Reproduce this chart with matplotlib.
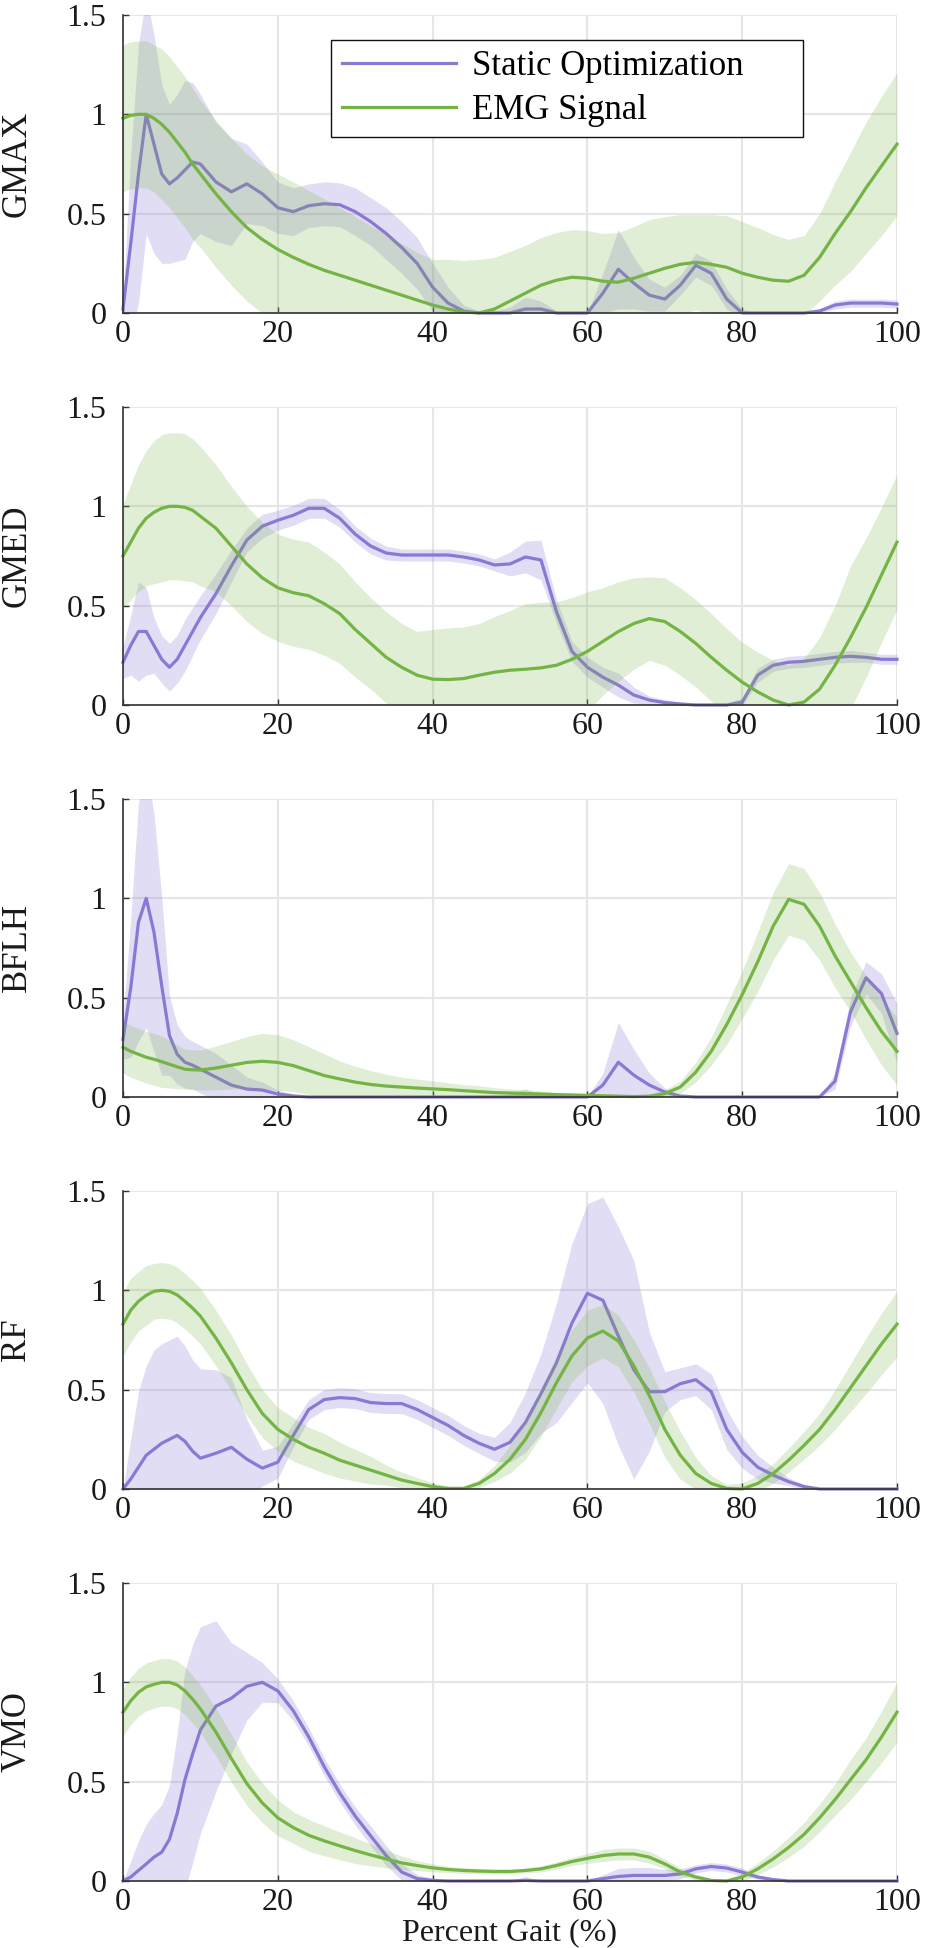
import matplotlib as mpl
import matplotlib.pyplot as plt
import numpy as np

mpl.use("Agg")
plt.rcParams["font.family"] = ["Liberation Serif", "DejaVu Serif"]

# %%
# gait cycle samples (1% steps early on, 2% steps afterwards)
x = list(range(0, 11)) + list(range(12, 101, 2))

muscles = ["GMAX", "GMED", "BFLH", "RF", "VMO"]

# --- GMAX ---
gmax_so_mean = [0.02, 0.35, 0.7, 1.0, 0.85, 0.7, 0.65, 0.68, 0.72, 0.76, 0.75,
                0.66, 0.61, 0.65, 0.6, 0.53,
                0.51, 0.54, 0.55, 0.545, 0.51,
                0.46, 0.4, 0.33, 0.25, 0.13,
                0.05, 0.01, 0.0, 0.0, 0.0,
                0.02, 0.02, 0.0, 0.0, 0.0,
                0.1, 0.22, 0.15, 0.09, 0.07,
                0.14, 0.24, 0.2, 0.07, 0.0,
                0.0, 0.0, 0.0, 0.0, 0.01,
                0.04, 0.05, 0.05, 0.05, 0.045]
gmax_so_sd = [0.03, 0.45, 0.65, 0.6, 0.55, 0.45, 0.4, 0.42, 0.45, 0.4, 0.35,
              0.3, 0.27, 0.2, 0.16, 0.13,
              0.12, 0.11, 0.11, 0.11, 0.12,
              0.12, 0.13, 0.13, 0.13, 0.12,
              0.08, 0.03, 0.01, 0.01, 0.03,
              0.06, 0.04, 0.01, 0.0, 0.0,
              0.1, 0.2, 0.13, 0.08, 0.06,
              0.05, 0.06, 0.06, 0.05, 0.02,
              0.0, 0.0, 0.0, 0.0, 0.01,
              0.02, 0.02, 0.02, 0.02, 0.02]
gmax_emg_mean = [0.98, 0.995, 1.0, 1.0, 0.98, 0.95, 0.91, 0.86, 0.81, 0.75, 0.7,
                 0.6, 0.51, 0.43, 0.37, 0.32,
                 0.28, 0.245, 0.215, 0.19, 0.165,
                 0.14, 0.115, 0.09, 0.065, 0.04,
                 0.02, 0.005, 0.0, 0.02, 0.06,
                 0.1, 0.14, 0.165, 0.18, 0.175,
                 0.16, 0.155, 0.175, 0.2, 0.225,
                 0.245, 0.255, 0.245, 0.23, 0.2,
                 0.18, 0.165, 0.16, 0.19, 0.28,
                 0.4, 0.51, 0.63, 0.74, 0.85]
gmax_emg_sd = [0.37, 0.37, 0.37, 0.37, 0.37, 0.38, 0.38, 0.38, 0.38, 0.38, 0.37,
               0.37, 0.37, 0.37, 0.37, 0.38,
               0.38, 0.37, 0.36, 0.34, 0.32,
               0.3, 0.28, 0.26, 0.24, 0.23,
               0.25, 0.26, 0.27, 0.26, 0.25,
               0.24, 0.24, 0.24, 0.24, 0.24,
               0.24, 0.25, 0.26, 0.27, 0.26,
               0.25, 0.24, 0.25, 0.26, 0.26,
               0.25, 0.23, 0.21, 0.2, 0.22,
               0.26, 0.3, 0.33, 0.35, 0.36]

# --- GMED ---
gmed_so_mean = [0.215, 0.3, 0.37, 0.37, 0.3, 0.23, 0.19, 0.23, 0.3, 0.37, 0.44,
                0.56, 0.7, 0.83, 0.9, 0.93,
                0.955, 0.99, 0.99, 0.94, 0.86,
                0.8, 0.765, 0.755, 0.755, 0.755,
                0.755, 0.745, 0.73, 0.705, 0.71,
                0.745, 0.73, 0.47, 0.27, 0.19,
                0.14, 0.1, 0.05, 0.025, 0.012,
                0.005, 0.0, 0.0, 0.0, 0.015,
                0.15, 0.2, 0.215, 0.22, 0.23,
                0.24, 0.245, 0.24, 0.23, 0.23]
gmed_so_sd = [0.08, 0.15, 0.25, 0.22, 0.14, 0.12, 0.12, 0.12, 0.13, 0.12, 0.11,
              0.1, 0.08, 0.06, 0.06, 0.05,
              0.05, 0.05, 0.05, 0.045, 0.04,
              0.04, 0.035, 0.03, 0.03, 0.03,
              0.03, 0.03, 0.03, 0.03, 0.06,
              0.08, 0.1, 0.06, 0.05, 0.05,
              0.05, 0.06, 0.04, 0.02, 0.015,
              0.01, 0.01, 0.01, 0.01, 0.02,
              0.035, 0.03, 0.03, 0.03, 0.03,
              0.03, 0.03, 0.025, 0.025, 0.025]
gmed_emg_mean = [0.75, 0.82, 0.89, 0.94, 0.97, 0.99, 1.0, 1.0, 0.995, 0.98, 0.95,
                 0.89, 0.8, 0.71, 0.64, 0.59,
                 0.565, 0.55, 0.51, 0.46, 0.38,
                 0.31, 0.24, 0.19, 0.15, 0.13,
                 0.128, 0.133, 0.15, 0.165, 0.175,
                 0.18, 0.187, 0.2, 0.23, 0.27,
                 0.32, 0.37, 0.41, 0.435, 0.42,
                 0.37, 0.31, 0.24, 0.175, 0.115,
                 0.066, 0.025, 0.0, 0.015, 0.08,
                 0.2, 0.34, 0.49, 0.655, 0.82]
gmed_emg_sd = [0.26, 0.29, 0.32, 0.34, 0.36, 0.37, 0.37, 0.37, 0.37, 0.36, 0.35,
               0.32, 0.3, 0.29, 0.28, 0.27,
               0.27, 0.27, 0.26, 0.25, 0.24,
               0.23, 0.23, 0.22, 0.22, 0.25,
               0.26, 0.26, 0.26, 0.28, 0.3,
               0.33, 0.33, 0.32, 0.31, 0.3,
               0.27, 0.25, 0.23, 0.21, 0.22,
               0.22, 0.22, 0.22, 0.21, 0.2,
               0.2, 0.2, 0.2, 0.22, 0.26,
               0.3, 0.36, 0.35, 0.34, 0.34]

# --- BFLH ---
bflh_so_mean = [0.29, 0.55, 0.88, 1.0, 0.83, 0.56, 0.31, 0.215, 0.175, 0.16, 0.14,
                0.1, 0.06, 0.04, 0.035, 0.015,
                0.005, 0.0, 0.0, 0.0, 0.0,
                0.0, 0.0, 0.0, 0.0, 0.0,
                0.0, 0.0, 0.0, 0.0, 0.0,
                0.0, 0.0, 0.0, 0.0, 0.0,
                0.06, 0.175, 0.11, 0.06, 0.025,
                0.005, 0.0, 0.0, 0.0, 0.0,
                0.0, 0.0, 0.0, 0.0, 0.0,
                0.08, 0.43, 0.6, 0.52, 0.32]
bflh_so_sd = [0.1, 0.35, 0.6, 0.65, 0.6, 0.45, 0.2, 0.15, 0.13, 0.12, 0.12,
              0.12, 0.1, 0.06, 0.04, 0.02,
              0.01, 0.0, 0.0, 0.0, 0.0,
              0.0, 0.0, 0.0, 0.0, 0.0,
              0.0, 0.0, 0.0, 0.0, 0.02,
              0.04, 0.01, 0.0, 0.0, 0.0,
              0.06, 0.2, 0.13, 0.06, 0.02,
              0.005, 0.0, 0.0, 0.0, 0.0,
              0.0, 0.0, 0.0, 0.0, 0.0,
              0.04, 0.07, 0.08, 0.1, 0.15]
bflh_emg_mean = [0.25, 0.23, 0.215, 0.2, 0.19, 0.178, 0.165, 0.152, 0.14, 0.137, 0.136,
                 0.146, 0.16, 0.174, 0.18, 0.174,
                 0.158, 0.133, 0.108, 0.091, 0.075,
                 0.063, 0.055, 0.05, 0.045, 0.041,
                 0.037, 0.032, 0.027, 0.022, 0.02,
                 0.017, 0.015, 0.012, 0.01, 0.008,
                 0.006, 0.004, 0.002, 0.004, 0.017,
                 0.05, 0.125, 0.23, 0.365, 0.515,
                 0.68, 0.86, 0.995, 0.97, 0.86,
                 0.71, 0.58, 0.45, 0.33, 0.23]
bflh_emg_sd = [0.13, 0.13, 0.13, 0.13, 0.13, 0.13, 0.12, 0.11, 0.1, 0.1, 0.1,
               0.11, 0.12, 0.13, 0.14, 0.14,
               0.13, 0.12, 0.11, 0.09, 0.08,
               0.07, 0.06, 0.05, 0.045, 0.04,
               0.035, 0.03, 0.03, 0.025, 0.02,
               0.02, 0.015, 0.01, 0.01, 0.01,
               0.01, 0.01, 0.01, 0.01, 0.02,
               0.03, 0.05, 0.07, 0.1, 0.12,
               0.15, 0.17, 0.18, 0.18, 0.17,
               0.16, 0.15, 0.16, 0.17, 0.17]

# --- RF ---
rf_so_mean = [0.0, 0.05, 0.11, 0.17, 0.2, 0.23, 0.25, 0.27, 0.24, 0.19, 0.155,
              0.18, 0.21, 0.15, 0.105, 0.135,
              0.27, 0.4, 0.45, 0.46, 0.455,
              0.435, 0.43, 0.43, 0.4, 0.36,
              0.32, 0.27, 0.23, 0.2, 0.235,
              0.335, 0.48, 0.635, 0.835, 0.985,
              0.95, 0.77, 0.6, 0.49, 0.49,
              0.53, 0.55, 0.49, 0.3, 0.185,
              0.11, 0.07, 0.037, 0.012, 0.0,
              0.0, 0.0, 0.0, 0.0, 0.0]
rf_so_sd = [0.0, 0.2, 0.38, 0.45, 0.5, 0.5, 0.5, 0.5, 0.48, 0.46, 0.45,
            0.42, 0.35, 0.2, 0.09, 0.08,
            0.06, 0.05, 0.05, 0.05, 0.05,
            0.05, 0.05, 0.05, 0.05, 0.05,
            0.05, 0.05, 0.05, 0.06, 0.1,
            0.15, 0.2, 0.3, 0.4, 0.45,
            0.52, 0.55, 0.55, 0.3, 0.1,
            0.08, 0.08, 0.09, 0.1, 0.08,
            0.06, 0.04, 0.02, 0.01, 0.0,
            0.0, 0.0, 0.0, 0.0, 0.0]
rf_emg_mean = [0.83, 0.9, 0.945, 0.975, 0.995, 1.0, 0.995, 0.977, 0.945, 0.91, 0.87,
               0.76, 0.635, 0.5, 0.38, 0.3,
               0.25, 0.21, 0.18, 0.145, 0.12,
               0.095, 0.07, 0.045, 0.028, 0.012,
               0.003, 0.003, 0.028, 0.078, 0.15,
               0.25, 0.385, 0.535, 0.67, 0.76,
               0.795, 0.745, 0.62, 0.47, 0.3,
               0.17, 0.078, 0.028, 0.003, 0.0,
               0.028, 0.078, 0.145, 0.22, 0.3,
               0.4, 0.51, 0.62, 0.73, 0.83]
rf_emg_sd = [0.16, 0.16, 0.15, 0.15, 0.14, 0.14, 0.14, 0.14, 0.14, 0.14, 0.14,
             0.14, 0.14, 0.13, 0.12, 0.11,
             0.11, 0.1, 0.1, 0.09, 0.08,
             0.07, 0.05, 0.04, 0.03, 0.02,
             0.01, 0.01, 0.02, 0.04, 0.07,
             0.1, 0.12, 0.13, 0.13, 0.14,
             0.135, 0.13, 0.13, 0.14, 0.14,
             0.12, 0.08, 0.04, 0.02, 0.03,
             0.04, 0.05, 0.06, 0.07, 0.08,
             0.1, 0.12, 0.14, 0.155, 0.165]

# --- VMO ---
vmo_so_mean = [0.0, 0.02, 0.053, 0.086, 0.12, 0.145, 0.21, 0.34, 0.51, 0.64, 0.76,
               0.88, 0.92, 0.98, 1.0, 0.957,
               0.857, 0.725, 0.575, 0.443, 0.327,
               0.227, 0.128, 0.045, 0.012, 0.003,
               0.0, 0.0, 0.0, 0.0, 0.0,
               0.003, 0.0, 0.0, 0.0, 0.0,
               0.012, 0.023, 0.028, 0.028, 0.028,
               0.036, 0.061, 0.073, 0.065, 0.045,
               0.02, 0.007, 0.0, 0.0, 0.0,
               0.0, 0.0, 0.0, 0.0, 0.0]
vmo_so_sd = [0.0, 0.08, 0.15, 0.2, 0.22, 0.24, 0.27, 0.4, 0.55, 0.55, 0.52,
             0.43, 0.28, 0.17, 0.1, 0.06,
             0.05, 0.045, 0.045, 0.045, 0.045,
             0.05, 0.05, 0.04, 0.02, 0.01,
             0.0, 0.0, 0.0, 0.0, 0.0,
             0.02, 0.0, 0.0, 0.0, 0.0,
             0.02, 0.04, 0.04, 0.04, 0.03,
             0.025, 0.02, 0.02, 0.02, 0.02,
             0.01, 0.005, 0.0, 0.0, 0.0,
             0.0, 0.0, 0.0, 0.0, 0.0]
vmo_emg_mean = [0.85, 0.907, 0.95, 0.977, 0.99, 1.0, 1.0, 0.987, 0.957, 0.915, 0.866,
                0.75, 0.617, 0.49, 0.393, 0.318,
                0.269, 0.23, 0.202, 0.177, 0.153,
                0.131, 0.111, 0.091, 0.078, 0.066,
                0.058, 0.053, 0.05, 0.048, 0.048,
                0.053, 0.061, 0.078, 0.098, 0.114,
                0.128, 0.136, 0.136, 0.12, 0.086,
                0.045, 0.02, 0.003, 0.0, 0.02,
                0.061, 0.111, 0.169, 0.235, 0.318,
                0.41, 0.51, 0.61, 0.725, 0.85]
vmo_emg_sd = [0.12, 0.12, 0.12, 0.12, 0.12, 0.12, 0.12, 0.12, 0.12, 0.12, 0.12,
              0.12, 0.12, 0.11, 0.1, 0.09,
              0.08, 0.08, 0.075, 0.07, 0.065,
              0.055, 0.045, 0.035, 0.025, 0.02,
              0.015, 0.015, 0.012, 0.012, 0.012,
              0.012, 0.015, 0.018, 0.02, 0.025,
              0.03, 0.03, 0.03, 0.03, 0.025,
              0.02, 0.015, 0.01, 0.01, 0.02,
              0.03, 0.04, 0.05, 0.06, 0.07,
              0.08, 0.1, 0.11, 0.13, 0.15]

so_means = [gmax_so_mean, gmed_so_mean, bflh_so_mean, rf_so_mean, vmo_so_mean]
so_sds = [gmax_so_sd, gmed_so_sd, bflh_so_sd, rf_so_sd, vmo_so_sd]
emg_means = [gmax_emg_mean, gmed_emg_mean, bflh_emg_mean, rf_emg_mean, vmo_emg_mean]
emg_sds = [gmax_emg_sd, gmed_emg_sd, bflh_emg_sd, rf_emg_sd, vmo_emg_sd]

xticks = [0, 20, 40, 60, 80, 100]
yticks = [0, 0.5, 1, 1.5]
ytick_labels = ["0", "0.5", "1", "1.5"]

SO_COLOR = "#8b78d4"
EMG_COLOR = "#74b444"

# %%
W, H = 925, 1948
fig = plt.figure(figsize=(W / 100, H / 100), dpi=100)

xs = np.array(x)
for k, name in enumerate(muscles):
    top_px = 15 + 392 * k
    bot_px = 313 + 392 * k
    ax = fig.add_axes([123 / W, 1 - bot_px / H, 774 / W, (bot_px - top_px) / H])

    so_m, so_s = np.array(so_means[k]), np.array(so_sds[k])
    emg_m, emg_s = np.array(emg_means[k]), np.array(emg_sds[k])

    ax.fill_between(xs, so_m - so_s, so_m + so_s, color=SO_COLOR, alpha=0.25,
                    linewidth=0, zorder=2)
    so_line, = ax.plot(xs, so_m, color=SO_COLOR, lw=2.3, zorder=3, clip_on=False)
    ax.fill_between(xs, emg_m - emg_s, emg_m + emg_s, color=EMG_COLOR, alpha=0.22,
                    linewidth=0, zorder=4)
    emg_line, = ax.plot(xs, emg_m, color=EMG_COLOR, lw=2.3, zorder=5, clip_on=False)

    ax.set_xlim(0, 100)
    ax.set_ylim(0, 1.5)
    ax.set_xticks(xticks)
    ax.set_yticks(yticks)
    ax.set_yticklabels(ytick_labels)
    ax.grid(True, color="#e6e6e6", linewidth=1.5)
    ax.set_axisbelow(True)
    for side in ["top", "right"]:
        ax.spines[side].set_visible(False)
    for side in ["left", "bottom"]:
        ax.spines[side].set_color("#333333")
        ax.spines[side].set_linewidth(1.2)
        ax.spines[side].set_zorder(6)
    ax.tick_params(axis="both", direction="in", length=4, width=1,
                   colors="#333333", labelcolor="#1a1a1a", labelsize=23)
    ax.tick_params(axis="y", pad=12)
    ax.tick_params(axis="x", pad=5)

    ax.set_ylabel(name, fontsize=25, color="#1a1a1a", va="center")
    ax.yaxis.set_label_coords((17 - 123) / 774, 0.5)

    if k == 0:
        leg = ax.legend([so_line, emg_line], ["Static Optimization", "EMG Signal"],
                        loc="upper left", bbox_to_anchor=(0.269, 0.6, 0.61, 0.316),
                        mode="expand", borderaxespad=0,
                        fontsize=25, fancybox=False, framealpha=1, edgecolor="#111111",
                        handlelength=3.3, handletextpad=0.45, borderpad=0.3,
                        labelspacing=0.3)
        leg.get_frame().set_linewidth(1.0)

fig.text(510 / W, 1 - 1933 / H, "Percent Gait (%)", ha="center", va="center",
         fontsize=23, color="#1a1a1a")

fig.savefig("out.png", dpi=100)
